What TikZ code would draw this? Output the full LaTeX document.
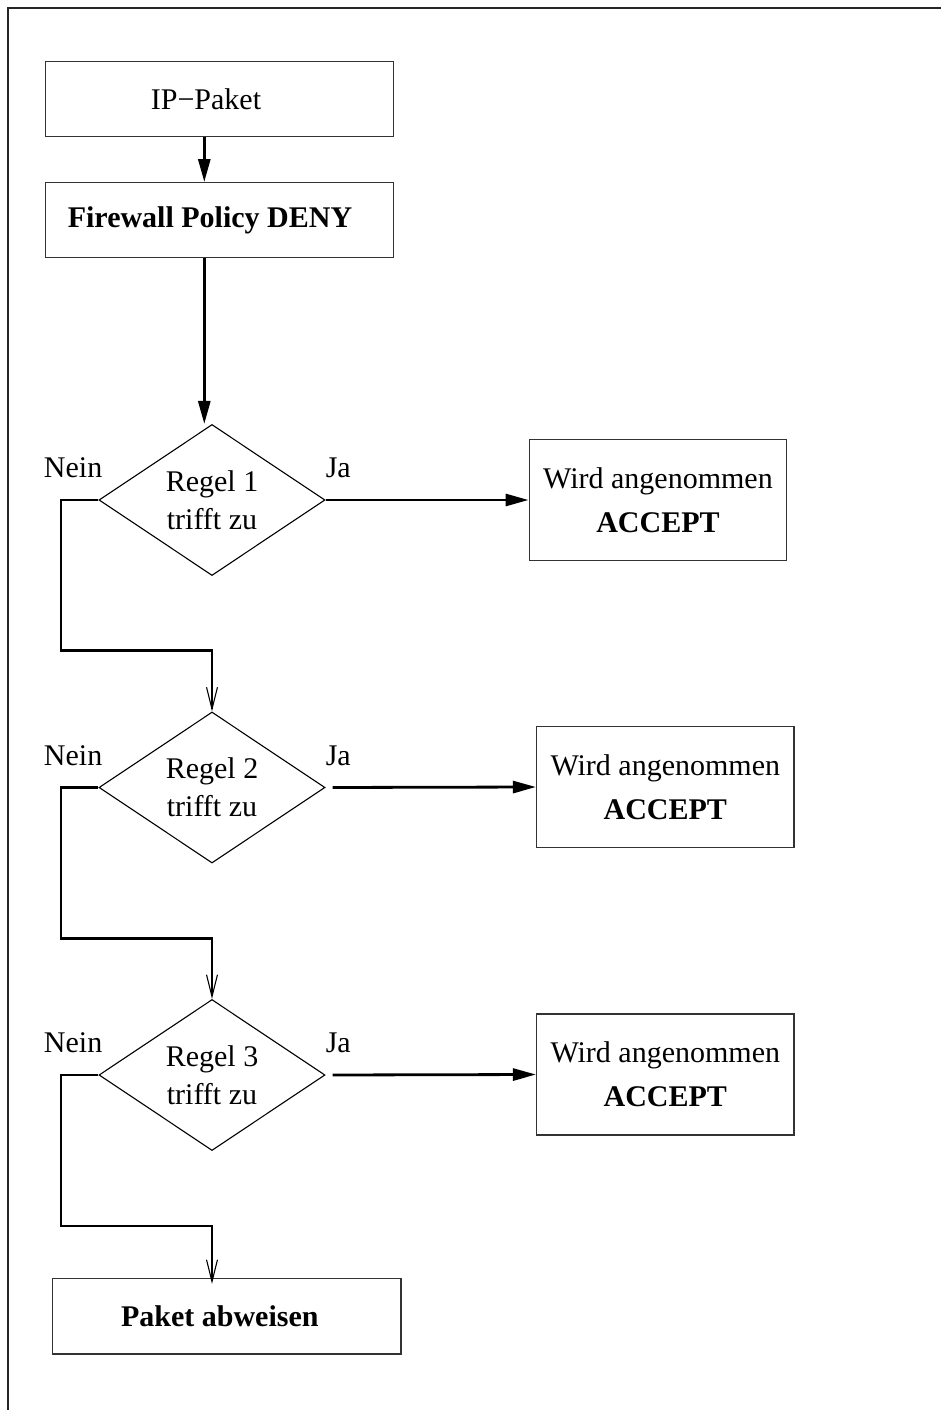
\documentclass[tikz,border=0pt]{standalone}
\usepackage{fontspec}
\setmainfont{Liberation Serif}
\usetikzlibrary{arrows.meta,shapes.geometric,calc}
\begin{document}
\begin{tikzpicture}[x=1pt,y=-1pt,
  box/.style={draw=black!80, line width=1.4pt, rectangle, inner sep=0pt,
    align=center, font=\fontsize{30}{44}\selectfont},
  rule/.style={draw=black, line width=1.1pt, diamond, aspect=1.5, inner sep=0pt,
    minimum width=226pt, minimum height=151pt, align=center,
    font=\fontsize{30}{38}\selectfont},
  lbl/.style={font=\fontsize{30}{36}\selectfont, inner sep=0pt},
  flow/.style={line width=2.8pt, -{Triangle[length=23pt,width=12pt]}},
  branch/.style={line width=2.8pt,
    -{Straight Barb[length=22pt,width=11pt,line width=1.1pt]}},
]
\useasboundingbox (0,0) rectangle (941,1410);

% outer frame (top and left edge)
\draw[line width=2pt, black!85] (7.5,1420) -- (7.5,8) -- (950,8);

% start boxes (text sits a little left of the box centre)
\node[box, minimum width=347.6pt, minimum height=75pt] (ip) at (219.5,99.2) {IP−Paket\kern27pt};
\node[box, minimum width=347.6pt, minimum height=75pt] (fw) at (219.5,220.2) {\bfseries Firewall Policy DENY\kern19pt};
\coordinate (spine) at (204.3,0);

% rule checks
\node[rule] (d1) at (212,500) {Regel 1\\trifft zu};
\node[rule] (d2) at (212,787.5) {Regel 2\\trifft zu};
\node[rule] (d3) at (212,1075) {Regel 3\\trifft zu};

% accept boxes
\node[box, minimum width=257.5pt, minimum height=120.7pt] (a1) at (658,500) {Wird angenommen\\\textbf{ACCEPT}};
\node[box, minimum width=257.3pt, minimum height=120.6pt] (a2) at (665.3,787) {Wird angenommen\\\textbf{ACCEPT}};
\node[box, minimum width=257.3pt, minimum height=121pt] (a3) at (665.3,1074.5) {Wird angenommen\\\textbf{ACCEPT}};

% final reject box
\node[box, minimum width=348.3pt, minimum height=75.3pt] (rej) at (226.8,1316.3) {\bfseries Paket abweisen\kern14pt};

% branch labels
\node[lbl, anchor=base east] (no1) at ($(d1.west)+(4,-22.5)$) {Nein};
\node[lbl, anchor=base west] (yes1) at ($(d1.east)+(0,-22.5)$) {Ja};
\node[lbl, anchor=base east] (no2) at ($(d2.west)+(4,-22.5)$) {Nein};
\node[lbl, anchor=base west] (yes2) at ($(d2.east)+(0,-22.5)$) {Ja};
\node[lbl, anchor=base east] (no3) at ($(d3.west)+(4,-22.5)$) {Nein};
\node[lbl, anchor=base west] (yes3) at ($(d3.east)+(0,-22.5)$) {Ja};

% main flow
\draw[flow] (ip.south -| spine) -- (fw.north -| spine);
\draw[flow] (fw.south -| spine) -- (d1.north -| spine);

% "Ja" branches
\draw[flow] (d1.east) -- (a1.west);
\draw[flow, shorten <=7pt] (d2.east) -- (a2.west);
\draw[flow, shorten <=7pt] (d3.east) -- (a3.west);

% "Nein" branches
\coordinate (n1) at (61,650.7);
\coordinate (n2) at (61,938.7);
\coordinate (n3) at (61,1226);
\draw[branch] (d1.west) -| (n1) -| (d2.north);
\draw[branch] (d2.west) -| (n2) -| (d3.north);
\draw[branch, shorten >=-6pt] (d3.west) -| (n3) -| (d3.south |- rej.north);
\end{tikzpicture}
\end{document}
